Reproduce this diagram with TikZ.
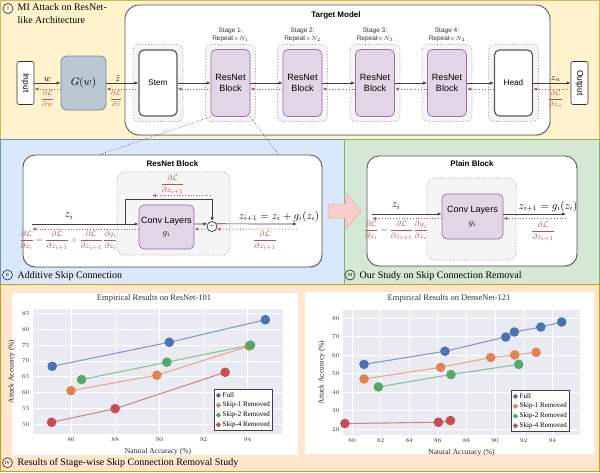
\documentclass[tikz,border=0pt]{standalone}
\usepackage{amsmath}
\usepackage{graphicx}
\usepackage{fontspec}
\setmainfont{Liberation Serif}
\setsansfont{Liberation Sans}
\usepackage{xcolor}
\usepackage{pgfplots}
\usetikzlibrary{positioning,calc,arrows.meta,shadows}

\definecolor{secyellow}{HTML}{FFF2CC}
\definecolor{secyellowline}{HTML}{D6B656}
\definecolor{secblue}{HTML}{DAE8FC}
\definecolor{secblueline}{HTML}{6C8EBF}
\definecolor{secgreen}{HTML}{D5E8D4}
\definecolor{secgreenline}{HTML}{82B366}
\definecolor{secorange}{HTML}{FFE6CC}
\definecolor{secorangeline}{HTML}{D79B00}
\definecolor{gradred}{HTML}{B85450}
\definecolor{blockpurple}{HTML}{E1D5E7}
\definecolor{blockpurpleline}{HTML}{9673A6}
\definecolor{genfill}{HTML}{BAC8D3}
\definecolor{genline}{HTML}{6F8AA0}
\definecolor{stagefill}{HTML}{F5F5F5}
\definecolor{pinkarrow}{HTML}{F8CECC}
\definecolor{pinkline}{HTML}{E8A9A6}
\definecolor{sbbg}{HTML}{EAEAF2}
\definecolor{sbblue}{HTML}{4C72B0}
\definecolor{sborange}{HTML}{DD8452}
\definecolor{sbgreen}{HTML}{55A868}
\definecolor{sbred}{HTML}{C44E52}

\newcommand{\partfrac}[2]{\dfrac{\partial #1}{\partial #2}}

\pgfplotsset{compat=1.18,
  plotaxis/.style={
    scale only axis,
    axis background/.style={fill=sbbg},
    axis line style={draw=none},
    tick style={draw=none},
    grid=major,
    major grid style={white, line width=0.7pt},
    tick label style={font=\rmfamily\fontsize{6.5}{7}\selectfont, text=black!80},
    label style={font=\rmfamily\fontsize{7.5}{8}\selectfont, text=black!85},
    xlabel={Natural Accuracy (\%)},
    ylabel={Attack Accuracy (\%)},
    legend cell align=left,
    legend style={at={(1,0)}, anchor=south east, xshift=-10pt, yshift=3pt,
      draw=black!75, line width=0.7pt, fill=white!92!sbbg,
      font=\rmfamily\fontsize{7}{8}\selectfont, inner sep=1.5pt, row sep=1.2pt,
      nodes={inner sep=1.2pt, text height=4.8pt, text depth=1.4pt}},
    legend image code/.code={\draw[mark repeat=2, mark phase=2, #1, mark size=1.8pt]
      plot coordinates {(0pt,0pt) (2.5pt,0pt) (5pt,0pt)};},
  },
  curve/.style={color=#1!70!white, line width=1.1pt, mark=*, mark size=4.2pt,
    mark options={draw=#1, fill=#1}},
}

\begin{document}
\begin{tikzpicture}[x=1pt, y=-1pt, font=\sffamily,
  seclbl/.style={font=\rmfamily\fontsize{10}{12.6}\selectfont, inner sep=0pt, align=left},
  seccirc/.style={draw=black!85, circle, line width=0.6pt, inner sep=0pt, minimum size=10pt,
    font=\rmfamily\fontsize{4.5}{5}\selectfont},
  iobox/.style={draw=black!80, fill=white, rounded corners=2pt, line width=0.6pt,
    minimum width=17pt, minimum height=43pt, inner sep=0pt, font=\sffamily\fontsize{8.5}{9}\selectfont},
  genbox/.style={draw=genline, fill=genfill, rounded corners=6pt, line width=0.8pt,
    minimum width=45pt, minimum height=54pt, font=\fontsize{10.5}{12}\selectfont},
  bigbox/.style={draw=black!65, fill=white, rounded corners=14pt, line width=0.9pt,
    drop shadow={shadow xshift=0.7pt, shadow yshift=-0.9pt, opacity=0.25}},
  stagebox/.style={draw=black!40, dotted, line width=0.8pt, fill=stagefill, rounded corners=6pt,
    minimum width=50pt, minimum height=77pt},
  plainbox/.style={draw=black!65, fill=white, line width=1.2pt, rounded corners=5pt,
    minimum width=38pt, minimum height=66pt, font=\sffamily\fontsize{8.2}{10}\selectfont},
  resbox/.style={draw=blockpurpleline, fill=blockpurple, line width=0.7pt, rounded corners=5pt,
    minimum width=39pt, minimum height=67pt, align=center, inner sep=1pt,
    font=\sffamily\fontsize{9}{11.5}\selectfont},
  convbox/.style={resbox, font=\sffamily\fontsize{9}{12.5}\selectfont},
  stagelbl/.style={font=\sffamily\fontsize{6.5}{8}\selectfont, align=center, inner sep=0.5pt, text=black!80},
  boxtitle/.style={font=\sffamily\bfseries\fontsize{8}{9}\selectfont, inner sep=0pt},
  fwd/.style={-{Latex[length=4pt,width=3.2pt]}, line width=0.7pt, draw=black!75},
  bwd/.style={-{Latex[length=4pt,width=3.2pt]}, line width=0.8pt, draw=gradred, dotted},
  gradlbl/.style={text=gradred, font=\fontsize{7.5}{8}\selectfont, inner sep=1.5pt},
  gradlblbig/.style={text=gradred, font=\fontsize{8.5}{9}\selectfont, inner sep=1pt},
  mathlbl/.style={font=\fontsize{9}{10}\selectfont, inner sep=1pt},
  mathlblbig/.style={font=\fontsize{10.5}{12}\selectfont, inner sep=1pt},
  addnode/.style={draw=black!80, fill=white, circle, line width=0.7pt, minimum size=10pt,
    inner sep=0pt, font=\fontsize{5}{5}\selectfont},
  zoomline/.style={draw=black!70, dotted, line width=0.7pt},
  plottitle/.style={font=\rmfamily\fontsize{8.5}{10}\selectfont, text=black!80, inner sep=0pt}
]
\useasboundingbox (0,0) rectangle (600,472);

% section backgrounds
\filldraw[fill=secyellow, draw=secyellowline, line width=0.8pt] (0.4,0.4) rectangle (599.6,139);
\filldraw[fill=secblue, draw=secblueline, line width=0.8pt] (0.4,139) rectangle (344,284);
\filldraw[fill=secgreen, draw=secgreenline, line width=0.8pt] (344,139) rectangle (599.6,284);
\filldraw[fill=secorange, draw=secorangeline, line width=0.8pt] (0.4,284) rectangle (599.6,471.6);

% I: attack pipeline
\node[seccirc] (s1num) at (8,8.5) {I};
\node[seclbl, anchor=north west] (s1lbl) at (17.5,3.5) {MI Attack on ResNet-\\like Architecture};

\node[bigbox, minimum width=425pt, minimum height=130pt] (target) at (337.5,70) {};
\node[boxtitle, anchor=base] (targettitle) at (336,17.5) {Target Model};

\node[iobox] (input) at (25.5,83) {\rotatebox{-90}{Input}};
\node[genbox] (gen) at (83.5,83) {$G(w)$};
\node[stagebox] (stemout) at (158,83) {};
\node[plainbox] (stem) at (stemout) {Stem};
\foreach \i/\x in {1/230.5, 2/302.5, 3/375, 4/447} {
  \node[stagebox] (stage\i) at (\x,83) {};
  \node[resbox] (block\i) at (stage\i) {ResNet\\Block};
  \node[stagelbl, above=1.5pt of stage\i] (stagelbl\i) {Stage \i:\\Repeat$\times N_{\i}$};
}
\node[stagebox] (headout) at (513.5,83) {};
\node[plainbox] (head) at (headout) {Head};
\node[iobox] (output) at (579.5,83) {\rotatebox{-90}{Output}};

\draw[fwd] (input) -- node[mathlbl, above] {$w$} (gen);
\draw[bwd] ([yshift=-6pt]gen.west) -- node[gradlbl, below] {$\partfrac{\mathcal{L}}{w}$} ([yshift=-6pt]input.east);
\draw[fwd] (gen) -- node[mathlbl, above, pos=0.35] {$\tilde{z}$} (stem);
\draw[bwd] ([yshift=-6pt]stem.west) -- node[gradlbl, below, pos=0.7] {$\partfrac{\mathcal{L}}{\tilde{z}}$} ([yshift=-6pt]gen.east);
\foreach \a/\b in {stem/block1, block1/block2, block2/block3, block3/block4, block4/head} {
  \draw[fwd] (\a) -- (\b);
  \draw[bwd] ([yshift=-6pt]\b.west) -- ([yshift=-6pt]\a.east);
}
\draw[fwd] (head) -- node[mathlbl, above, pos=0.6] {$z_n$} (output);
\draw[bwd] ([yshift=-6pt]output.west) -- node[gradlbl, below, pos=0.4] {$\partfrac{\mathcal{L}}{z_n}$} ([yshift=-6pt]head.east);

% II: additive skip connection
\node[seccirc] (s2num) at (7.5,275) {II};
\node[seclbl, anchor=base west] (s2lbl) at (17.5,278.3) {Additive Skip Connection};

\node[bigbox, minimum width=299pt, minimum height=112pt, rounded corners=12pt] (resblk) at (172.5,211) {};
\node[boxtitle, anchor=base] (restitle) at (172.5,166.5) {ResNet Block};
\node[stagebox, minimum width=113pt, minimum height=83pt, rounded corners=8pt] (resin) at (173.5,213.5) {};
\node[convbox, minimum width=55pt, minimum height=44pt] (conv1) at (166.5,227) {Conv Layers\\$g_i$};
\node[addnode] (radd) at (212,226.5) {$+$};

\coordinate (rin) at (32,224);
\coordinate (rinb) at (32,229);
\coordinate (rsplit) at (125,224);
\coordinate (rskip) at (125,199);
\coordinate (rout) at (297,224);
\coordinate (routb) at (297,229);
\coordinate (rgradr) at (211,195.5);
\coordinate (rgradl) at (152,195.5);

\draw[fwd] (rin) -- (rin -| conv1.west);
\draw[fwd] (rsplit) -- (rskip) -| (radd.north);
\draw[fwd] (conv1.east |- rin) -- (radd.150);
\draw[fwd] (radd.30) -- (rout);
\draw[bwd] (routb) -- (radd.330);
\draw[bwd] (radd.210) -- (conv1.east |- routb);
\draw[bwd] (conv1.west |- routb) -- (rinb);
\draw[bwd] (rgradr) -- node[gradlblbig, above, pos=0.65] {$\partfrac{\mathcal{L}}{z_{i+1}}$} (rgradl);

\node[mathlblbig] (rzin) at (69,216) {$z_i$};
\node[mathlblbig] (rzout) at (279,216.5) {$z_{i+1} = z_i + g_i(z_i)$};
\node[gradlblbig] (rgout) at (265,241) {$\partfrac{\mathcal{L}}{z_{i+1}}$};
\node[gradlblbig] (rgin) at (68.5,240.5) {$\partfrac{\mathcal{L}}{z_i} = \partfrac{\mathcal{L}}{z_{i+1}} + \partfrac{\mathcal{L}}{z_{i+1}}\partfrac{g_i}{z_i}$};

% III: plain block
\node[seccirc] (s3num) at (350,275) {III};
\node[seclbl, anchor=base west] (s3lbl) at (359.5,278.3) {Our Study on Skip Connection Removal};

\node[bigbox, minimum width=210pt, minimum height=110pt, rounded corners=12pt] (plainblk) at (472,211) {};
\node[boxtitle, anchor=base] (plaintitle) at (472,166.5) {Plain Block};
\node[stagebox, minimum width=89pt, minimum height=82pt, rounded corners=8pt] (plainin) at (471.5,219) {};
\node[convbox, minimum width=61pt, minimum height=45pt] (conv2) at (472.5,216.5) {Conv Layers\\$g_i$};

\coordinate (pin) at (372,214);
\coordinate (pinb) at (372,218.5);
\coordinate (pout) at (566,214);
\coordinate (poutb) at (566,218.5);

\draw[fwd] (pin) -- (pin -| conv2.west);
\draw[fwd] (conv2.east |- pout) -- (pout);
\draw[bwd] (poutb) -- (conv2.east |- poutb);
\draw[bwd] (conv2.west |- pinb) -- (pinb);

\node[mathlblbig] (pzin) at (396,206) {$z_i$};
\node[mathlblbig] (pzout) at (548,206.5) {$z_{i+1} = g_i(z_i)$};
\node[gradlblbig] (pgin) at (396,231) {$\partfrac{\mathcal{L}}{z_i} = \partfrac{\mathcal{L}}{z_{i+1}}\partfrac{g_i}{z_i}$};
\node[gradlblbig] (pgout) at (543,232) {$\partfrac{\mathcal{L}}{z_{i+1}}$};

% move from II to III
\filldraw[fill=pinkarrow, draw=pinkline, line width=0.5pt]
  (328,204) -- (346,204) -- (346,193) -- (361,211) -- (346,229) -- (346,218) -- (328,218) -- cycle;

% zoom from stage 1 onto the ResNet block
\draw[zoomline] (block1.south west) -- ($(resblk.north west)+(77,0)$);
\draw[zoomline] (block1.south east) -- ($(resblk.north west)+(256,0)$);

% IV: results
\node[seccirc] (s4num) at (7.5,462.7) {IV};
\node[seclbl, anchor=base west] (s4lbl) at (17.5,465.7) {Results of Stage-wise Skip Connection Removal Study};

\fill[white] (12,293) rectangle (298,455);
\fill[white] (305,292) rectangle (594,454);
\node[plottitle] (ltitle) at (154,298.5) {Empirical Results on ResNet-101};
\node[plottitle] (rtitle) at (449,298.5) {Empirical Results on DenseNet-121};

\coordinate (lplotsw) at (33,434);
\begin{axis}[plotaxis, at={(lplotsw)}, anchor=south west, width=250pt, height=125pt,
  xmin=84.28, xmax=95.6, ymin=46.9, ymax=86.4,
  xtick={86,88,...,94}, ytick={50,55,...,85}]
  \addplot[curve=sbblue] coordinates {(85.15,68.3) (90.45,75.9) (94.8,83.0)};
  \addplot[curve=sborange] coordinates {(86.0,60.6) (89.89,65.5) (94.07,74.7)};
  \addplot[curve=sbgreen] coordinates {(86.48,64.1) (90.34,69.6) (94.13,75.0)};
  \addplot[curve=sbred] coordinates {(85.12,50.6) (88.0,54.9) (92.98,66.4)};
  \legend{Full, Skip-1 Removed, Skip-2 Removed, Skip-4 Removed}
\end{axis}

\coordinate (rplotsw) at (343,435);
\begin{axis}[plotaxis, at={(rplotsw)}, anchor=south west, width=237pt, height=125pt,
  xmin=79.37, xmax=95.94, ymin=16.9, ymax=84.5,
  xtick={80,82,...,94}, ytick={20,30,...,80}]
  \addplot[curve=sbblue] coordinates {(80.84,55.1) (86.5,62.2) (90.75,69.9) (91.35,72.6) (93.2,75.3) (94.66,78.0)};
  \addplot[curve=sborange] coordinates {(80.84,47.2) (86.2,53.5) (89.7,58.8) (91.38,60.2) (92.87,61.6)};
  \addplot[curve=sbgreen] coordinates {(81.84,42.9) (86.92,49.6) (91.66,55.1)};
  \addplot[curve=sbred] coordinates {(79.5,23.1) (86.04,23.8) (86.88,24.7)};
  \legend{Full, Skip-1 Removed, Skip-2 Removed, Skip-4 Removed}
\end{axis}
\end{tikzpicture}
\end{document}
